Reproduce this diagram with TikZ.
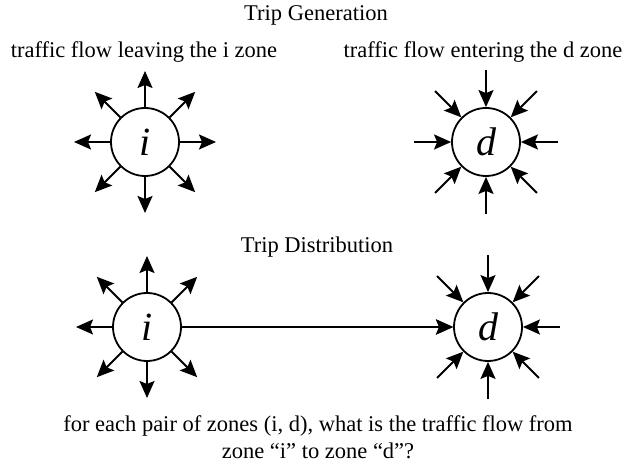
\documentclass[tikz,border=0pt]{standalone}
\usepackage{fontspec}
\setmainfont{Liberation Serif}
\usetikzlibrary{arrows.meta,calc}

\tikzset{
  zone/.style = {draw, circle, line width=1.8pt, minimum size=68pt, inner sep=0pt,
                 font=\fontsize{40}{40}\selectfont\itshape},
  label/.style = {font=\fontsize{22.5}{27}\selectfont},
  >={Stealth[length=17pt,width=15pt,inset=3pt]}
}

\begin{document}
\begin{tikzpicture}[x=1pt,y=1pt]
\useasboundingbox (0,0) rectangle (624,465);

\node[label] (T1) at (316,450) {Trip Generation};
\node[label] (L) at (144,413) {traffic flow leaving the i zone};
\node[label] (E) at (483,413) {traffic flow entering the d zone};

\node[zone] (I1) at (145,323) {i};
\node[zone] (D1) at (486,323) {d};

\node[label] (T2) at (317,218) {Trip Distribution};

\node[zone] (I2) at (147,138) {i};
\node[zone] (D2) at (488,138) {d};

\node[label, align=center] (Q) at (318,28) {for each pair of zones (i, d), what is the traffic flow from\\zone “i” to zone “d”?};

% flows leaving i
\foreach \a in {0,45,...,315} {
  \draw[->, line width=2pt] (I1.\a) -- ($(I1)+(\a:71)$);
}
\foreach \a in {45,90,...,315} {
  \draw[->, line width=2pt] (I2.\a) -- ($(I2)+(\a:71)$);
}

% flows entering d
\foreach \a in {0,45,...,315} {
  \draw[->, line width=2pt] ($(D1)+(\a:72)$) -- (D1.\a);
  \draw[->, line width=2pt] ($(D2)+(\a:72)$) -- (D2.\a);
}

\draw[->, line width=2pt] (I2) -- (D2);

\end{tikzpicture}
\end{document}
